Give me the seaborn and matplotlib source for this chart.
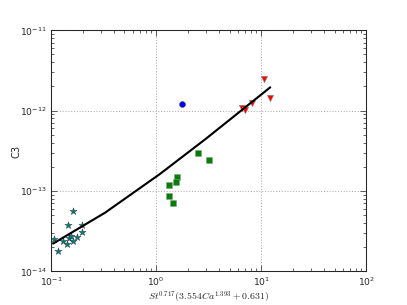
import numpy as np
import pandas as pd
import seaborn as sns
import matplotlib.pyplot as plt

# data
star_x = [0.107, 0.117, 0.131, 0.143, 0.146, 0.149, 0.155, 0.163, 0.163, 0.177, 0.196, 0.196]
star_y = [2.52e-14, 1.81e-14, 2.40e-14, 2.22e-14, 3.77e-14, 2.64e-14, 2.75e-14, 5.69e-14,
          2.40e-14, 2.70e-14, 3.77e-14, 3.05e-14]

square_x = [2.50, 3.18, 1.57, 1.55, 1.32, 1.32, 1.46]
square_y = [2.94e-13, 2.43e-13, 1.48e-13, 1.31e-13, 1.19e-13, 8.67e-14, 7.09e-14]

circle_x = [1.77]
circle_y = [1.22e-12]

tri_x = [10.75, 12.2, 8.15, 6.64, 7.04]
tri_y = [2.48e-12, 1.42e-12, 1.25e-12, 1.07e-12, 1.02e-12]

fit_x = [0.105, 0.327, 1.09, 3.0, 12.2]
fit_y = [2.22e-14, 5.37e-14, 1.63e-13, 4.5e-13, 1.95e-12]

sns.set_style("ticks")
plt.rcParams["mathtext.fontset"] = "cm"
plt.rcParams["font.family"] = ["DejaVu Sans"]

fig, ax = plt.subplots(figsize=(8, 6), dpi=50.875)
fig.subplots_adjust(left=0.125, right=0.9, bottom=0.11, top=0.9)

stars = pd.DataFrame({"x": star_x, "y": star_y})
squares = pd.DataFrame({"x": square_x, "y": square_y})
circles = pd.DataFrame({"x": circle_x, "y": circle_y})
tris = pd.DataFrame({"x": tri_x, "y": tri_y})
fit = pd.DataFrame({"x": fit_x, "y": fit_y})

sns.scatterplot(data=stars, x="x", y="y", marker="*", s=110, color="#007f7f",
                edgecolor="#333333", linewidth=0.6, ax=ax, zorder=3)
sns.scatterplot(data=squares, x="x", y="y", marker="s", s=70, color="#007f00",
                edgecolor="#999999", linewidth=0.8, ax=ax, zorder=3)
sns.scatterplot(data=circles, x="x", y="y", marker="o", s=70, color="#0000ff",
                edgecolor="#333333", linewidth=0.6, ax=ax, zorder=3)
sns.scatterplot(data=tris, x="x", y="y", marker="v", s=80, color="#ff0000",
                edgecolor="#888888", linewidth=0.8, ax=ax, zorder=3)
sns.lineplot(data=fit, x="x", y="y", color="black", linewidth=3, ax=ax, zorder=4)

ax.set_xscale("log")
ax.set_yscale("log")
ax.set_xlim(0.1, 100)
ax.set_ylim(1e-14, 1e-11)

ax.grid(True, which="major", linestyle=":", color="#b0b0b0", linewidth=1.5)
ax.tick_params(which="both", direction="in", top=True, right=True, labelsize=13, pad=6)
ax.tick_params(which="major", length=8, width=1)
ax.tick_params(which="minor", length=4, width=1)
for sp in ax.spines.values():
    sp.set_linewidth(1.5)

ax.set_xlabel(r"$St^{0.717}(3.554Ca^{1.393}+0.631)$", fontsize=14, labelpad=2)
ax.set_ylabel("C3", fontsize=14, labelpad=-2)

plt.savefig("out.png", dpi=50.875)
